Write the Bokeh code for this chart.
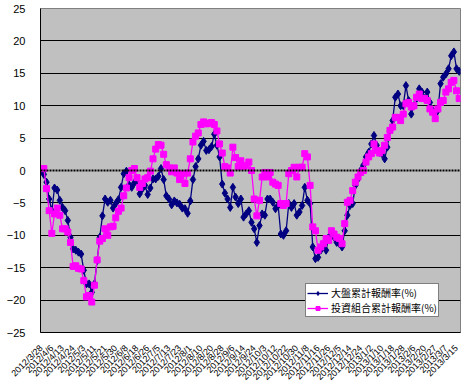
import math
from bokeh.plotting import figure
from bokeh.models import FixedTicker, Span, Range1d, Legend, LegendItem
from bokeh.embed import file_html
from bokeh.resources import INLINE

# 大盤累計報酬率(%)
market = [
    0.0, -0.6, -1.8, -4.4, -6.2, -2.7, -3.0, -4.6, -5.7, -6.2,
    -7.7, -10.3, -12.1, -12.3, -12.6, -12.9, -15.4, -17.5, -17.5, -18.8,
    -17.5, -13.9, -10.3, -7.0, -4.4, -4.9, -4.6, -5.8, -5.1, -4.5,
    -2.6, -0.5, -0.1, -2.2, -2.6, -1.9, -1.6, -3.6, -2.8, -2.3,
    -3.7, -2.7, -1.3, -1.3, -0.9, 0.3, -1.4, -3.9, -4.4, -5.3,
    -4.7, -5.0, -5.2, -5.8, -5.9, -6.6, -4.7, -1.4, 0.6, 1.8,
    3.9, 4.5, 3.1, 3.2, 3.7, 5.6, 3.9, 2.1, -2.1, -3.5,
    -4.4, -5.7, -2.6, -4.1, -5.1, -4.4, -7.2, -6.7, -6.2,
    -8.0, -9.0, -11.1, -8.5, -6.7, -6.9, -4.4, -4.4, -4.9, -5.9,
    -5.4, -9.8, -10.0, -9.3, -5.1, -5.7, -5.1, -6.9, -6.4, -5.4,
    -2.6, -4.6, -5.1, -11.8, -13.6, -13.4, -12.3, -11.8, -12.3, -10.3,
    -10.0, -10.3, -11.1, -11.3, -11.8, -9.3, -6.9, -5.4, -5.1, -2.3,
    -1.3, 0.0, 0.8, 2.1, 2.8, 4.1, 5.4, 3.9, 2.8, 2.6,
    1.8, 3.6, 6.2, 7.7, 11.3, 11.8, 10.0, 10.0, 13.1, 10.8,
    8.7, 10.0, 11.1, 12.6, 12.1, 11.1, 12.1, 10.5, 9.3, 8.7,
    9.3, 13.4, 14.4, 14.9, 15.7, 17.7, 18.3, 15.7, 15.3,
]

# 投資組合累計報酬率(%)
portfolio = [
    0.3, 0.3, -2.8, -6.2, -9.7, -6.7, -5.8, -6.9, -9.0, -9.0,
    -9.5, -11.1, -14.8, -14.7, -15.1, -15.2, -17.0, -19.5, -19.3, -20.3,
    -17.7, -13.8, -10.9, -10.5, -9.0, -10.0, -8.7, -8.6, -7.3, -6.3,
    -5.8, -3.9, -2.7, -1.1, 0.0, 0.3, -1.1, -2.6, -2.0, -1.3,
    -1.1, -0.1, 1.8, 3.3, 4.0, 3.9, 2.5, 0.9, 0.4, -0.2,
    0.4, -0.4, -1.4, -0.5, -2.0, -0.4, 1.8, 4.4, 5.3, 5.8,
    7.1, 7.5, 7.2, 7.3, 7.4, 7.1, 6.1, 4.1, 2.7, 0.6,
    0.4, -0.4, 3.6, 2.0, 0.6, 1.5, 0.6, 0.8, 1.3,
    0.0, -4.4, -7.0, -4.6, -1.0, -0.3, -1.0, -0.3, -1.8, -2.1,
    -2.3, -5.1, -5.4, -5.1, -0.5, 0.0, 0.5, -1.0, 0.5, 0.5,
    2.6, 2.1, -2.3, -8.7, -9.3, -12.3, -11.8, -11.3, -10.5, -10.8,
    -9.3, -9.8, -10.3, -10.5, -11.3, -8.2, -4.9, -4.6, -3.1, -1.8,
    -1.0, -0.3, 0.0, 1.3, 2.1, 2.6, 4.1, 3.1, 2.7, 3.1,
    3.9, 5.1, 6.2, 6.7, 8.2, 8.2, 7.7, 8.7, 10.3, 10.5,
    9.8, 10.0, 11.3, 11.8, 11.1, 11.1, 10.8, 9.5, 9.0, 8.0,
    9.5, 10.5, 10.8, 12.1, 12.6, 13.6, 13.9, 12.3, 11.1,
]

date_labels = [
    "2012/3/28", "2012/4/6", "2012/4/13", "2012/4/24", "2012/5/3",
    "2012/5/11", "2012/5/21", "2012/5/30", "2012/6/8", "2012/6/18",
    "2012/6/26", "2012/7/5", "2012/7/13", "2012/7/23", "2012/8/1",
    "2012/8/10", "2012/8/20", "2012/8/28", "2012/9/6", "2012/9/14",
    "2012/9/24", "2012/10/3", "2012/10/12", "2012/10/22", "2012/10/30",
    "2012/11/8", "2012/11/16", "2012/11/26", "2012/12/5", "2012/12/14",
    "2012/12/24", "2013/1/2", "2013/1/10", "2013/1/18", "2013/1/28",
    "2013/2/6", "2013/2/20", "2013/2/27", "2013/3/7", "2013/3/15",
]

y_ticks = [-25, -20, -15, -10, -5, 0, 5, 10, 15, 20, 25]
grid_ticks = [t for t in y_ticks if t not in (0, -25, 25)]

label_market = "大盤累計報酬率(%)"
label_portfolio = "投資組合累計報酬率(%)"

x = list(range(len(market)))
tick_step = 4
x_ticks = x[::tick_step]

p = figure(width=465, height=392, output_backend="svg", toolbar_location=None,
           x_range=Range1d(-0.26, 157.49), y_range=Range1d(-25, 25),
           min_border_left=40, min_border_right=5, min_border_top=8,
           min_border_bottom=60)
p.background_fill_color = "#C0C0C0"
p.border_fill_color = "white"
p.outline_line_color = "#808080"
p.outline_line_width = 1

# grid
p.xgrid.grid_line_color = None
p.ygrid.ticker = FixedTicker(ticks=grid_ticks)
p.ygrid.grid_line_color = "black"
p.ygrid.grid_line_width = 1
p.add_layout(Span(location=0, dimension="width", line_color="black",
                  line_width=2, line_dash="2 1"))

# axes
p.yaxis.ticker = FixedTicker(ticks=y_ticks)
p.yaxis.major_tick_line_color = None
p.yaxis.minor_tick_line_color = None
p.yaxis.major_label_standoff = 9
p.yaxis.major_label_text_font = "Liberation Sans"
p.yaxis.major_label_text_font_size = "11px"
p.yaxis.major_label_text_color = "black"
p.yaxis.axis_line_color = "black"

p.xaxis.ticker = FixedTicker(ticks=x_ticks)
p.xaxis.major_label_overrides = {t: date_labels[i] for i, t in enumerate(x_ticks)}
p.xaxis.major_label_orientation = math.pi / 4
p.xaxis.major_tick_line_color = None
p.xaxis.minor_tick_line_color = None
p.xaxis.major_label_standoff = 8
p.xaxis.major_label_text_font = "Liberation Sans"
p.xaxis.major_label_text_font_size = "9px"
p.xaxis.major_label_text_color = "black"
p.xaxis.axis_line_color = "black"

# series
navy = "#000080"
pink = "#FF00FF"
l1 = p.line(x, market, line_color=navy, line_width=1.3)
s1 = p.scatter(x, market, marker="diamond", size=8, fill_color=navy,
               line_color=navy)
l2 = p.line(x, portfolio, line_color=pink, line_width=1.3)
s2 = p.scatter(x, portfolio, marker="square", size=6, fill_color=pink,
               line_color=pink)

legend = Legend(items=[LegendItem(label=label_market, renderers=[l1, s1]),
                       LegendItem(label=label_portfolio, renderers=[l2, s2])],
                location=(265, 15))
legend.background_fill_color = "white"
legend.background_fill_alpha = 1
legend.border_line_color = "black"
legend.border_line_width = 1
legend.label_text_font = "Noto Sans CJK TC"
legend.label_text_font_size = "10px"
legend.label_text_line_height = 1.0
legend.label_text_color = "black"
legend.glyph_width = 21
legend.glyph_height = 10
legend.label_height = 10
legend.label_standoff = 3
legend.spacing = 0
legend.padding = 1
legend.margin = 0
p.add_layout(legend, "center")

open("out.html", "w").write(file_html(p, INLINE))
